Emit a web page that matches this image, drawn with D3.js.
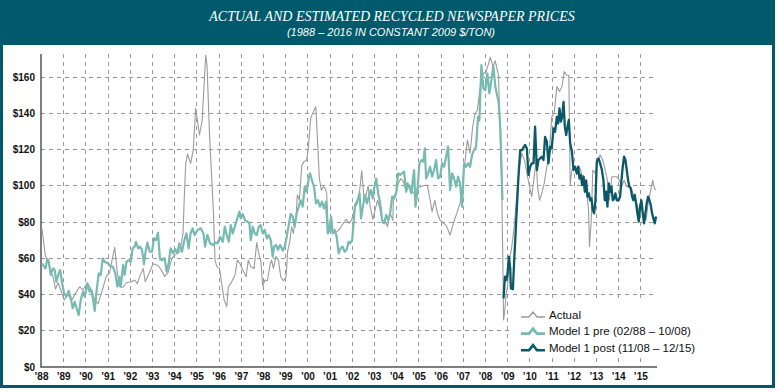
<!DOCTYPE html>
<html><head><meta charset="utf-8">
<script src="https://cdn.jsdelivr.net/npm/d3@7"></script>
<style>
html,body{margin:0;padding:0;background:#fff;}
svg{display:block;}
</style></head>
<body><svg id="c" width="777" height="392"></svg>
<script>
const title = "ACTUAL AND ESTIMATED RECYCLED NEWSPAPER PRICES";
const subtitle = "(1988 – 2016 IN CONSTANT 2009 $/TON)";
const yearTicks = d3.range(1988, 2016);
const yearLabels = yearTicks.map(y => "\u2019" + String(y).slice(2));
const valueTicks = [0, 20, 40, 60, 80, 100, 120, 140, 160];
const seriesNames = ["Actual", "Model 1 pre (02/88 \u2013 10/08)", "Model 1 post (11/08 \u2013 12/15)"];

const actual = [[1988.05,76],[1988.20,61],[1988.32,59],[1988.44,52],[1988.54,50],[1988.65,43],[1988.77,46.5],[1988.89,42.5],[1989.04,37],[1989.22,40],[1989.37,36.6],[1989.55,40.6],[1989.74,44.3],[1989.89,42.5],[1990.09,46.5],[1990.27,42.5],[1990.42,37],[1990.57,35],[1990.72,40.6],[1990.94,50],[1991.09,52],[1991.20,59],[1991.32,66],[1991.44,52],[1991.55,44.3],[1991.70,44],[1991.85,46.5],[1992.07,47],[1992.22,48],[1992.34,46],[1992.45,50],[1992.60,54.4],[1992.70,47],[1992.90,52.6],[1993.05,57],[1993.27,56],[1993.42,53.5],[1993.57,50],[1993.72,52],[1993.87,59],[1994.02,62],[1994.25,63.6],[1994.40,73.7],[1994.45,92],[1994.52,112],[1994.60,117.5],[1994.74,112.4],[1994.86,119.7],[1994.97,142.7],[1995.14,128],[1995.26,136],[1995.42,172],[1995.48,166.6],[1995.59,129],[1995.77,84.8],[1995.84,59],[1995.92,55.4],[1996.04,54.4],[1996.14,46],[1996.25,37],[1996.37,33.3],[1996.44,44.3],[1996.59,47],[1996.74,50.8],[1996.85,59],[1996.97,57],[1997.09,53.5],[1997.24,49.8],[1997.34,59],[1997.45,55.4],[1997.60,54.4],[1997.72,68.6],[1997.84,61],[1997.90,59],[1997.99,44.7],[1998.09,48],[1998.20,47.6],[1998.32,56.3],[1998.39,59],[1998.47,54.4],[1998.59,60.9],[1998.70,59],[1998.80,49.8],[1998.92,47.6],[1999.04,49.8],[1999.11,63.6],[1999.22,70],[1999.29,77.4],[1999.37,73.7],[1999.49,83],[1999.55,95],[1999.64,92],[1999.75,111.4],[1999.85,113.3],[1999.97,114.2],[2000.05,121.6],[2000.15,137.2],[2000.27,140.9],[2000.38,143.6],[2000.45,127],[2000.54,104],[2000.63,97.6],[2000.72,99.5],[2000.80,98.6],[2000.87,95.8],[2000.95,73.7],[2001.05,77],[2001.17,73.7],[2001.32,74.7],[2001.45,76],[2001.60,79],[2001.75,81.5],[2001.90,79.3],[2002.02,82],[2002.15,88.5],[2002.26,90.3],[2002.35,96.7],[2002.45,108.3],[2002.56,92],[2002.64,95],[2002.74,100],[2002.83,88.5],[2002.95,81.5],[2003.05,86.6],[2003.16,92],[2003.28,86.6],[2003.40,79.3],[2003.50,81],[2003.61,77.4],[2003.73,84.8],[2003.85,81],[2003.88,94],[2004.00,95.8],[2004.10,101.3],[2004.21,104],[2004.33,102.3],[2004.45,96.7],[2004.55,99.5],[2004.66,97.6],[2004.81,95.8],[2004.96,98.6],[2005.11,99.5],[2005.23,100],[2005.41,100.4],[2005.53,92],[2005.62,85.7],[2005.74,92],[2005.86,84.8],[2005.98,81],[2006.13,79.3],[2006.25,78.3],[2006.43,72.8],[2006.58,79.3],[2006.73,84.8],[2006.88,90.3],[2007.00,101.3],[2007.11,114.2],[2007.21,125.2],[2007.33,117.9],[2007.45,132.6],[2007.56,140],[2007.66,141.8],[2007.75,151],[2007.84,158.3],[2007.93,162],[2008.05,163],[2008.16,167.2],[2008.24,171],[2008.36,165.7],[2008.46,169],[2008.61,161],[2008.68,132.6],[2008.76,95.8],[2008.81,55.4],[2008.84,26],[2008.91,33.3],[2008.96,40.6],[2009.02,44.3],[2009.11,59],[2009.21,66.4],[2009.32,77.4],[2009.44,95.8],[2009.56,110.5],[2009.66,117.9],[2009.78,114.2],[2009.89,106.9],[2010.01,99.5],[2010.11,94],[2010.22,105],[2010.31,114.2],[2010.37,99.5],[2010.46,92],[2010.56,95.8],[2010.67,101.3],[2010.79,110.5],[2010.91,119.7],[2011.01,138],[2011.12,140],[2011.24,154.7],[2011.36,152],[2011.47,154.7],[2011.57,163],[2011.69,161],[2011.78,161],[2011.84,100.4],[2011.92,108.7],[2012.02,110.5],[2012.14,106],[2012.26,110.5],[2012.37,106],[2012.47,105],[2012.59,95.8],[2012.67,86.6],[2012.71,66.4],[2012.79,81],[2012.86,108.7],[2012.97,106.9],[2013.07,114.2],[2013.19,117],[2013.31,114.2],[2013.42,108.7],[2013.52,103],[2013.61,92],[2013.72,105],[2013.82,105],[2013.94,105],[2014.06,103],[2014.16,99.5],[2014.27,103],[2014.39,99.5],[2014.51,99.5],[2014.62,97.6],[2014.72,94],[2014.84,90.3],[2014.96,84.8],[2015.07,88.5],[2015.17,83],[2015.26,81],[2015.37,92],[2015.47,97.6],[2015.56,103],[2015.64,98.6],[2015.71,97.6]];

const modelPre = [[1988.05,57.2],[1988.14,55.4],[1988.20,54.4],[1988.29,59.4],[1988.35,58],[1988.44,50.8],[1988.54,54.4],[1988.62,53.5],[1988.69,47],[1988.80,51.7],[1988.86,53.5],[1988.95,46.5],[1989.04,40.6],[1989.14,38.8],[1989.25,42],[1989.34,37.9],[1989.43,32.4],[1989.52,36],[1989.59,33],[1989.70,28.7],[1989.79,37],[1989.89,41.6],[1989.97,38.8],[1990.09,46],[1990.19,41.6],[1990.27,42.5],[1990.34,37.9],[1990.42,31],[1990.49,40.6],[1990.60,51.7],[1990.69,50.8],[1990.78,60],[1990.87,58],[1991.02,57.2],[1991.14,55.4],[1991.24,55.4],[1991.35,51.7],[1991.44,44.3],[1991.53,49.8],[1991.59,44.3],[1991.70,56.3],[1991.77,50.8],[1991.85,58],[1991.95,59],[1992.04,58],[1992.13,65.5],[1992.22,66.4],[1992.28,69.1],[1992.37,65.5],[1992.46,66.4],[1992.55,64.6],[1992.64,56.8],[1992.70,62.7],[1992.79,68.6],[1992.90,63.6],[1993.00,63.6],[1993.09,71],[1993.18,70],[1993.27,74.1],[1993.36,59.4],[1993.45,59],[1993.57,60],[1993.66,52.6],[1993.75,57.2],[1993.84,65.5],[1993.95,62.7],[1994.05,65],[1994.14,62.7],[1994.23,68.2],[1994.35,63.6],[1994.44,69.1],[1994.55,73.7],[1994.65,65.5],[1994.74,73.7],[1994.83,76.5],[1994.92,72.8],[1995.05,75.6],[1995.20,76.5],[1995.32,73.7],[1995.39,66.4],[1995.50,72.8],[1995.62,68.2],[1995.74,67.3],[1995.84,68.6],[1995.95,68.2],[1996.07,71.9],[1996.19,69.1],[1996.28,77.4],[1996.37,72.8],[1996.46,69.1],[1996.55,78.3],[1996.64,73.7],[1996.73,77.4],[1996.82,81],[1996.94,85.7],[1997.00,82],[1997.09,84.4],[1997.19,81],[1997.30,80.2],[1997.39,79.3],[1997.45,70],[1997.54,77.4],[1997.63,73.7],[1997.72,72.8],[1997.81,77.4],[1997.90,78.3],[1997.99,73.7],[1998.08,75.6],[1998.17,71],[1998.26,72.8],[1998.35,70],[1998.44,60.9],[1998.50,66.4],[1998.59,67.3],[1998.68,64.6],[1998.77,67.3],[1998.89,64.2],[1998.98,66.4],[1999.07,71.9],[1999.16,78.3],[1999.25,84.4],[1999.34,83],[1999.43,77.4],[1999.52,84.8],[1999.61,88.5],[1999.70,92],[1999.79,88.5],[1999.88,99.5],[1999.97,96.7],[2000.06,104],[2000.12,106.9],[2000.21,103],[2000.30,99.5],[2000.39,90.3],[2000.48,92],[2000.57,88.5],[2000.66,91.2],[2000.75,87.5],[2000.84,91.2],[2000.92,73.7],[2000.99,75.6],[2001.07,83],[2001.14,73.7],[2001.23,75.6],[2001.32,71.9],[2001.41,62.7],[2001.50,65.5],[2001.59,66.4],[2001.68,63.6],[2001.77,64.6],[2001.86,69.1],[2001.92,68.2],[2002.02,70],[2002.08,79.3],[2002.15,89.4],[2002.26,92],[2002.35,95.8],[2002.42,82],[2002.50,88.5],[2002.60,95],[2002.68,90.3],[2002.77,94],[2002.86,97.6],[2002.95,93],[2003.01,98.6],[2003.10,104],[2003.19,95.8],[2003.28,90.3],[2003.37,81],[2003.46,79.3],[2003.55,83.9],[2003.64,81],[2003.73,84.8],[2003.82,94],[2003.91,93],[2004.00,95.8],[2004.09,106.9],[2004.18,106],[2004.27,106.9],[2004.36,107.8],[2004.45,96.7],[2004.51,101.3],[2004.60,99.5],[2004.69,95.8],[2004.75,103],[2004.81,108.7],[2004.87,88.5],[2004.96,97.6],[2005.05,112.4],[2005.14,114.2],[2005.23,113.3],[2005.29,120.6],[2005.35,104],[2005.44,106.9],[2005.53,110.5],[2005.62,105],[2005.71,108.7],[2005.80,114.2],[2005.89,104],[2005.98,105],[2006.07,112.4],[2006.16,110.5],[2006.25,116],[2006.34,121.6],[2006.43,97.6],[2006.52,106.9],[2006.61,104],[2006.70,99.5],[2006.79,105],[2006.88,101.3],[2006.97,88.5],[2007.06,112.4],[2007.15,110.5],[2007.24,112.4],[2007.33,110.5],[2007.42,117],[2007.51,119.7],[2007.60,121.6],[2007.69,138],[2007.75,136],[2007.84,166.6],[2007.93,153.7],[2008.02,152.8],[2008.11,162],[2008.20,151],[2008.29,158.3],[2008.38,165.7],[2008.47,154.7],[2008.53,151],[2008.62,146],[2008.70,130],[2008.79,92]];

const modelPost = [[2008.84,37.9],[2008.90,49.8],[2008.96,48],[2009.02,51.7],[2009.08,60.9],[2009.14,54.4],[2009.17,43.4],[2009.26,42.9],[2009.32,59],[2009.41,81],[2009.51,105],[2009.59,119.7],[2009.68,119.7],[2009.74,121.2],[2009.81,122.5],[2009.89,120.6],[2009.96,106],[2010.04,110.5],[2010.11,112.4],[2010.19,112.4],[2010.26,132.6],[2010.34,108.7],[2010.41,114.2],[2010.49,115.1],[2010.56,116],[2010.64,114.2],[2010.71,127],[2010.79,124.3],[2010.86,112.4],[2010.94,121.6],[2011.01,120.6],[2011.09,131.7],[2011.16,129.8],[2011.24,138],[2011.30,134.4],[2011.36,142.7],[2011.42,135.4],[2011.48,138],[2011.54,146.3],[2011.60,132.6],[2011.66,128],[2011.72,132.6],[2011.78,136.3],[2011.84,123.4],[2011.92,118.8],[2011.99,108.7],[2012.06,110.5],[2012.14,106.9],[2012.20,110.5],[2012.26,104],[2012.32,106],[2012.38,100.4],[2012.44,105],[2012.50,96.7],[2012.56,103],[2012.62,94],[2012.68,95.8],[2012.74,92],[2012.80,93],[2012.86,86.6],[2012.92,84.8],[2012.98,92],[2013.04,113.3],[2013.12,115.1],[2013.19,112.4],[2013.27,108.7],[2013.34,103],[2013.40,92],[2013.46,96.7],[2013.52,88.5],[2013.58,101.3],[2013.64,96.7],[2013.70,99.5],[2013.76,92],[2013.82,93],[2013.88,95.8],[2013.94,92],[2014.02,92],[2014.09,94],[2014.15,103],[2014.21,110.5],[2014.27,116],[2014.33,114.2],[2014.39,108.7],[2014.45,103],[2014.51,99.5],[2014.57,98.6],[2014.63,94],[2014.69,92],[2014.75,95],[2014.81,90.3],[2014.87,84.8],[2014.93,80.2],[2014.99,88.5],[2015.05,92],[2015.11,84.8],[2015.17,79.3],[2015.23,84.8],[2015.29,90.3],[2015.35,94],[2015.41,92],[2015.47,89.4],[2015.53,84.8],[2015.59,82],[2015.65,79.3],[2015.71,83]];

const colors = {header:"#005a6b", actual:"#9b9b9b", pre:"#76bab1", post:"#0b5868", axis:"#555", grid:"#9a9a9a"};

const svg = d3.select("#c");
// frame + header
svg.append("rect").attr("x",1.5).attr("y",1).attr("width",772).attr("height",385.5)
  .attr("fill","#fff").attr("stroke",colors.header).attr("stroke-width",3);
svg.append("rect").attr("x",0).attr("y",0).attr("width",775).attr("height",45).attr("fill",colors.header);
svg.append("text").attr("x",392).attr("y",21).attr("text-anchor","middle")
  .attr("font-family","'Liberation Serif','Times New Roman',serif").attr("font-style","italic")
  .attr("font-size",14).attr("fill","#fff").text(title);
svg.append("text").attr("x",391).attr("y",35.5).attr("text-anchor","middle")
  .attr("font-family","'Liberation Sans Narrow','Liberation Sans',Arial,sans-serif").attr("font-style","italic")
  .attr("font-size",11).attr("fill","#fff").text(subtitle);

const x = d3.scaleLinear().domain([1988, 2015]).range([41, 640.3]);
const y = d3.scaleLinear().domain([0, 172.7]).range([367, 54]);
const xEnd = 657, gridEnd = 654;

// grid
const g = svg.append("g");
g.selectAll("line.h").data(valueTicks.filter(v=>v>0)).join("line")
  .attr("x1",41).attr("x2",gridEnd).attr("y1",d=>y(d)).attr("y2",d=>y(d))
  .attr("stroke",colors.grid).attr("stroke-dasharray","4,4").attr("stroke-width",1)
  .attr("shape-rendering","crispEdges");
g.selectAll("line.v").data(yearTicks.slice(1)).join("line")
  .attr("x1",d=>Math.round(x(d))+0.5).attr("x2",d=>Math.round(x(d))+0.5).attr("y1",54).attr("y2",367)
  .attr("stroke",colors.grid).attr("stroke-dasharray","4,4").attr("stroke-width",1);

// axes
const yAxis = d3.axisLeft(y).tickValues(valueTicks).tickFormat(d=>"$"+d).tickSize(0).tickPadding(6);
const ya = svg.append("g").attr("transform","translate(41,0)").call(yAxis);
ya.select(".domain").remove();
ya.selectAll("text").attr("font-family","'Liberation Sans',Arial,sans-serif").attr("font-weight","bold")
  .attr("font-size",10).attr("fill","#111");
svg.append("line").attr("x1",41).attr("x2",41).attr("y1",54).attr("y2",367.5).attr("stroke",colors.axis).attr("stroke-width",1.5);

const xAxis = d3.axisBottom(x).tickValues(yearTicks).tickFormat((d,i)=>yearLabels[i]).tickSize(0).tickPadding(6);
const xa = svg.append("g").attr("transform","translate(0,367)").call(xAxis);
xa.select(".domain").remove();
xa.selectAll("text").attr("font-family","'Liberation Sans',Arial,sans-serif").attr("font-weight","bold")
  .attr("font-size",10).attr("fill","#111");

// lines
const line = d3.line().x(d=>x(d[0])).y(d=>y(d[1]));
svg.append("path").datum(actual).attr("d",line).attr("fill","none").attr("stroke",colors.actual).attr("stroke-width",1.1).attr("stroke-linejoin","round");
svg.append("path").datum(modelPre).attr("d",line).attr("fill","none").attr("stroke",colors.pre).attr("stroke-width",2.2).attr("stroke-linejoin","round");
svg.append("path").datum(modelPost).attr("d",line).attr("fill","none").attr("stroke",colors.post).attr("stroke-width",2.3).attr("stroke-linejoin","round");

// legend with white backing box
svg.append("rect").attr("x",513).attr("y",299).attr("width",146).attr("height",59).attr("fill","#fff");
const leg = [{c:colors.actual,w:1.3},{c:colors.pre,w:2.6},{c:colors.post,w:2.6}];
const lg = svg.append("g").attr("transform","translate(521,314)");
leg.forEach((s,i)=>{
  const row = lg.append("g").attr("transform",`translate(0,${i*16.6})`);
  row.append("path").attr("d","M0,3 L8,3 L12,-2 L16,3 L24,3").attr("fill","none")
    .attr("stroke",s.c).attr("stroke-width",s.w).attr("stroke-linejoin","miter");
  row.append("text").attr("x",28).attr("y",4.5).attr("font-family","'Liberation Sans',Arial,sans-serif")
    .attr("font-size",11.5).attr("fill","#111").text(seriesNames[i]);
});

svg.append("line").attr("x1",40.5).attr("x2",xEnd).attr("y1",367).attr("y2",367).attr("stroke",colors.axis).attr("stroke-width",1.5);
</script></body></html>
